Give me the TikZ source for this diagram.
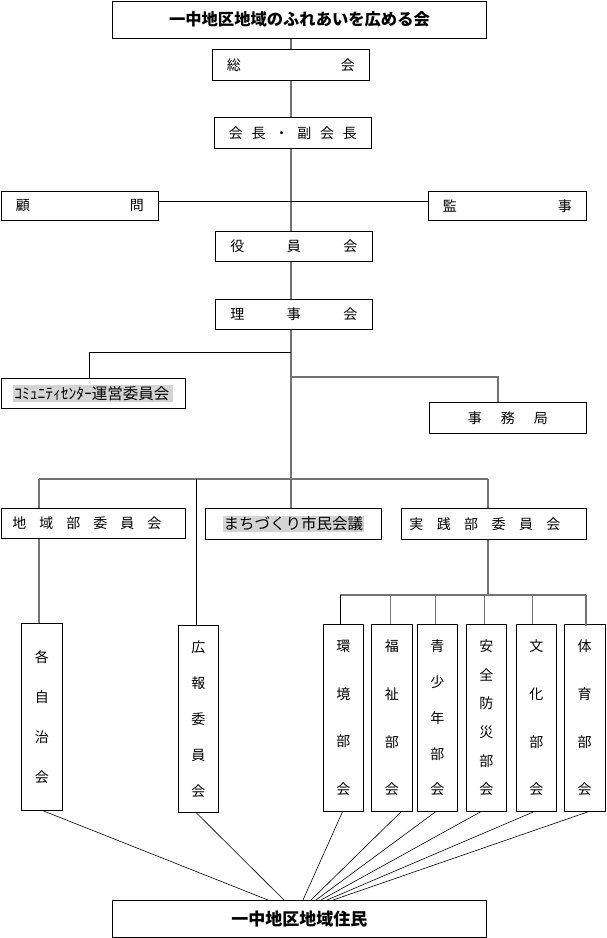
\documentclass[tikz,border=0pt]{standalone}
\usepackage{fontspec}
\setmainfont{Noto Sans CJK JP}
\begin{document}
\begin{tikzpicture}[x=1pt,y=-1pt,
  box/.style={draw=black,line width=0.9pt,inner sep=0pt,anchor=north west,font=\fontsize{14}{14}\selectfont},
  sz/.style n args={2}{minimum width=#1pt,minimum height=#2pt},
  vt/.style={align=center},
  ln/.style={black,line width=0.9pt},
  gl/.style={black!55,line width=1.3pt},
  fan/.style={black,line width=0.6pt},
  hl/.style={}]
\useasboundingbox (0,0) rectangle (606,938);
\setlength{\fboxsep}{1pt}
% boxes
\node[box,sz={374}{37}] (top) at (112,0.6) {\fontsize{16.3}{16}\selectfont\bfseries 一中地区地域のふれあいを広める会};
\node[box,sz={157}{31}] (soukai) at (212,49) {\hbox to 128pt{総\hfil 会}};
\node[box,sz={157}{31}] (kaicho) at (214,117) {\hbox to 128pt{会\hfil 長\hfil ・\hfil 副\hfil 会\hfil 長}};
\node[box,sz={157.5}{29}] (komon) at (0.6,191) {\hbox to 128pt{顧\hfil 問}};
\node[box,sz={158}{29}] (kanji) at (428,191) {\hbox to 129pt{監\hfil 事}};
\node[box,sz={157}{30}] (yakuin) at (215,231) {\hbox to 127pt{役\hfil 員\hfil 会}};
\node[box,sz={157}{30}] (riji) at (215,299) {\hbox to 127pt{理\hfil 事\hfil 会}};
\node[box,sz={184.5}{30}] (comm) at (0.6,378) {\colorbox{black!17}{\hbox to 158pt{\fontsize{15.5}{15}\selectfont ｺﾐｭﾆﾃｨｾﾝﾀｰ運営委員会\hfil}}};
\node[box,sz={157}{31}] (jimu) at (429,402) {\hbox to 80pt{事\hfil 務\hfil 局}};
\node[box,sz={184.5}{30}] (chiiki) at (0.6,508) {\hbox to 184pt{\hskip 11pt\hbox to 149pt{地\hfil 域\hfil 部\hfil 委\hfil 員\hfil 会}\hfil}};
\node[box,sz={176}{31}] (machi) at (205,508) {\colorbox{black!17}{\fontsize{15.5}{15}\selectfont まちづくり市民会議}};
\node[box,sz={185}{31}] (jissen) at (401,508) {\hbox to 185pt{\hskip 8pt\hbox to 151pt{実\hfil 践\hfil 部\hfil 委\hfil 員\hfil 会}\hfil}};
% vertical boxes
\node[box,sz={41}{187},vt,font=\fontsize{14}{40}\selectfont] (kaku) at (21,623) {各\\自\\治\\会};
\node[box,sz={40}{187},vt,font=\fontsize{14}{36}\selectfont] (kouhou) at (178,625) {広\\報\\委\\員\\会};
\node[box,sz={40}{187},vt,font=\fontsize{14}{47.7}\selectfont] (kan) at (323,624) {環\\境\\部\\会};
\node[box,sz={41}{187},vt,font=\fontsize{14}{47.7}\selectfont] (fuku) at (371,624) {福\\祉\\部\\会};
\node[box,sz={40}{187},vt,font=\fontsize{14}{35.75}\selectfont] (sei) at (417,624) {青\\少\\年\\部\\会};
\node[box,sz={40}{187},vt,font=\fontsize{14}{28.6}\selectfont] (anzen) at (466,624) {安\\全\\防\\災\\部\\会};
\node[box,sz={40}{187},vt,font=\fontsize{14}{47.7}\selectfont] (bunka) at (516,624) {文\\化\\部\\会};
\node[box,sz={40.5}{187},vt,font=\fontsize{14}{47.7}\selectfont] (taiiku) at (564,624) {体\\育\\部\\会};
\node[box,sz={374}{37}] (jumin) at (112,900) {\fontsize{17}{17}\selectfont\bfseries 一中地区地域住民};
% helper coordinates
\coordinate (sp) at (291,0);
\coordinate (hy) at (0,201);
\coordinate (b1) at (291,352);
\coordinate (b2) at (291,377);
\coordinate (b3L) at (39,479);
\coordinate (b3R) at (488,479);
\coordinate (b4L) at (340,595);
\coordinate (b4R) at (586,595);
% spine
\draw[gl] (sp |- top.south) -- (sp |- soukai.north);
\draw[gl] (sp |- soukai.south) -- (sp |- kaicho.north);
\draw[gl] (sp |- kaicho.south) -- (sp |- yakuin.north);
\draw[gl] (sp |- yakuin.south) -- (sp |- riji.north);
\draw[gl] (sp |- riji.south) -- (sp |- machi.north);
\draw[ln] (komon.east |- hy) -- (kanji.west |- hy);
% branches
\draw[ln] (b1) -| ([xshift=-3.5pt]comm.north);
\draw[gl] (b2) -| ([xshift=-10pt]jimu.north);
\draw[gl] (b3L) -- (b3R);
\draw[gl] (b3L) -- (b3L |- chiiki.north);
\draw[gl] (b3R) -- (b3R |- jissen.north);
\draw[ln] ([xshift=-2pt]kouhou.north |- b3L) -- ([xshift=-2pt]kouhou.north);
\draw[gl] (b3L |- chiiki.south) -- (b3L |- kaku.north);
\draw[gl] (b3R |- jissen.south) -- (b3R |- b4L);
\draw[gl] (b4L) -- (b4R);
\draw[ln] (b4L) -- (b4L |- kan.north);
\draw[gl] ([xshift=-1.5pt]fuku.north |- b4L) -- ([xshift=-1.5pt]fuku.north);
\draw[gl] ([xshift=-2pt]sei.north |- b4L) -- ([xshift=-2pt]sei.north);
\draw[gl] ([xshift=-2pt]anzen.north |- b4L) -- ([xshift=-2pt]anzen.north);
\draw[gl] ([xshift=-4pt]bunka.north |- b4L) -- ([xshift=-4pt]bunka.north);
\draw[gl] (b4R) -- ([yshift=-2pt]b4R |- taiiku.north);
% fans to residents
\draw[fan] ([xshift=1.5pt]kaku.south) -- ([xshift=156pt]jumin.north west);
\draw[fan] ([xshift=-2pt]kouhou.south) -- ([xshift=172pt]jumin.north west);
\draw[fan] ([xshift=-1pt]kan.south) -- ([xshift=191pt]jumin.north west);
\draw[fan] ([xshift=9pt]fuku.south) -- ([xshift=199pt]jumin.north west);
\draw[fan] ([xshift=-2pt]sei.south) -- ([xshift=204pt]jumin.north west);
\draw[fan] ([xshift=-6pt]anzen.south) -- ([xshift=209pt]jumin.north west);
\draw[fan] ([xshift=-3pt]bunka.south) -- ([xshift=215pt]jumin.north west);
\draw[fan] ([xshift=3pt]taiiku.south) -- ([xshift=221pt]jumin.north west);
\end{tikzpicture}
\end{document}
